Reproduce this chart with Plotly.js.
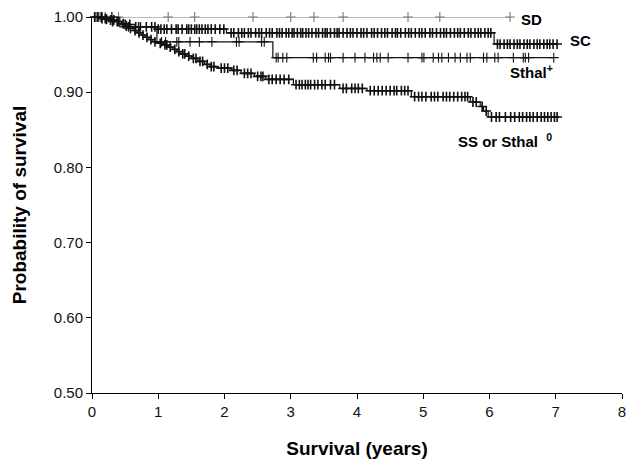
<!DOCTYPE html>
<html>
<head>
<meta charset="utf-8">
<script src="https://cdn.plot.ly/plotly-3.0.1.min.js"></script>
<style>html,body{margin:0;padding:0;background:#fff;}#chart{width:627px;height:462px;}</style>
</head>
<body>
<div id="chart"></div>
<script>
// ---- Kaplan-Meier step data (time in years, survival probability) ----
const sdTimes = [0, 6.31];
const sdSurv  = [1.0, 1.0];
const sdCensor = [0.05, 0.12, 0.2, 0.3, 0.4, 1.15, 1.55, 2.43, 3.0, 3.35, 3.79, 4.77, 5.25, 6.31];

const scTimes = [0, 0.15, 0.3, 0.45, 0.65, 1.0, 2.03, 6.07, 7.03];
const scSurv  = [1.0, 0.997, 0.994, 0.99, 0.987, 0.984, 0.979, 0.964, 0.964];
const scCensor = [0.08, 0.14, 0.22, 0.31, 0.38, 0.5, 0.57, 0.66, 0.73, 0.82, 0.9, 0.95, 1.0, 1.04, 1.09, 1.13,
  1.2, 1.27, 1.3, 1.36, 1.43, 1.46, 1.5, 1.55, 1.58, 1.62, 1.66, 1.71, 1.75, 1.8, 1.86, 1.93, 1.99,
  2.1, 2.14, 2.21, 2.26, 2.3, 2.36, 2.4, 2.47, 2.52, 2.56, 2.63, 2.68, 2.72, 2.79, 2.83, 2.87, 2.93,
  2.97, 3.02, 3.05, 3.1, 3.15, 3.18, 3.23, 3.27, 3.32, 3.38, 3.42, 3.48, 3.52, 3.55, 3.6, 3.66, 3.7,
  3.73, 3.79, 3.85, 3.9, 3.94, 4.0, 4.06, 4.1, 4.15, 4.22, 4.26, 4.31, 4.37, 4.42, 4.46, 4.53, 4.58,
  4.61, 4.66, 4.73, 4.78, 4.82, 4.88, 4.94, 4.98, 5.03, 5.1, 5.14, 5.2, 5.26, 5.31, 5.35, 5.41, 5.47,
  5.52, 5.56, 5.62, 5.68, 5.72, 5.78, 5.83, 5.87, 5.93, 5.98, 6.02,
  6.12, 6.16, 6.22, 6.27, 6.31, 6.37, 6.42, 6.46, 6.52, 6.57, 6.61, 6.67, 6.72, 6.76, 6.82, 6.87,
  6.91, 6.96, 7.02];

const stTimes = [0, 0.42, 0.98, 2.73, 6.97];
const stSurv  = [1.0, 0.987, 0.967, 0.946, 0.946];
const stCensor = [0.15, 0.3, 0.55, 0.7, 1.05, 1.11, 1.28, 1.31, 1.48, 1.62, 1.81, 2.18, 2.22, 2.56, 2.6,
  2.78, 2.81, 2.88, 2.94, 3.34, 3.39, 3.52, 3.57, 3.6, 3.79, 3.97, 4.12, 4.25, 4.3, 4.35, 4.47, 4.77,
  4.98, 5.01, 5.15, 5.23, 5.28, 5.38, 5.48, 5.56, 5.66, 5.71, 5.91, 5.96, 6.08, 6.13, 6.36, 6.51,
  6.54, 6.59, 6.97];

const ssTimes = [0, 0.12, 0.25, 0.35, 0.45, 0.5, 0.55, 0.62, 0.68, 0.74, 0.8, 0.86, 0.92, 1.0, 1.08,
  1.15, 1.22, 1.28, 1.34, 1.42, 1.5, 1.6, 1.7, 1.78, 1.9, 2.1, 2.25, 2.45, 2.62, 3.04, 3.74, 4.15,
  4.82, 5.71, 5.86, 5.91, 5.98, 7.03];
const ssSurv  = [1.0, 0.998, 0.996, 0.994, 0.991, 0.988, 0.985, 0.982, 0.979, 0.976, 0.973, 0.97,
  0.967, 0.965, 0.963, 0.96, 0.957, 0.954, 0.951, 0.948, 0.945, 0.941, 0.937, 0.934, 0.932, 0.929,
  0.925, 0.921, 0.917, 0.91, 0.905, 0.902, 0.894, 0.887, 0.881, 0.875, 0.867, 0.867];
const ssCensor = [0.04, 0.09, 0.15, 0.2, 0.28, 0.33, 0.4, 0.47, 0.52, 0.58, 0.65, 0.71, 0.77, 0.83,
  0.89, 0.95, 1.03, 1.1, 1.13, 1.18, 1.25, 1.31, 1.37, 1.4, 1.46, 1.53, 1.57, 1.63, 1.67, 1.74, 1.8,
  1.84, 1.95, 2.0, 2.05, 2.14, 2.19, 2.3, 2.35, 2.4, 2.5, 2.55, 2.58, 2.67, 2.72, 2.78, 2.84, 2.9,
  2.97, 3.08, 3.13, 3.17, 3.22, 3.26, 3.3, 3.36, 3.41, 3.47, 3.52, 3.6, 3.66, 3.79, 3.84, 3.92,
  3.97, 4.02, 4.08, 4.2, 4.26, 4.32, 4.38, 4.44, 4.5, 4.56, 4.6, 4.67, 4.72, 4.77, 4.87, 4.93,
  4.98, 5.04, 5.12, 5.17, 5.22, 5.3, 5.35, 5.4, 5.46, 5.52, 5.58, 5.63, 5.67, 5.75, 5.8, 5.89,
  5.95, 6.03, 6.1, 6.15, 6.24, 6.32, 6.38, 6.45, 6.5, 6.56, 6.61, 6.66, 6.72, 6.78, 6.83, 6.88,
  6.93, 6.98, 7.02];

const xTickVals = [0, 1, 2, 3, 4, 5, 6, 7, 8];
const yTickVals = [0.5, 0.6, 0.7, 0.8, 0.9, 1.0];

// survival value at time t from a KM step function
function survAt(times, surv, t) {
  let s = surv[0];
  for (let i = 0; i < times.length; i++) { if (times[i] <= t) s = surv[i]; }
  return s;
}

function groupTraces(times, surv, censor, color, mw) {
  return [
    { x: times, y: surv, type: 'scatter', mode: 'lines', line: { shape: 'hv', color: color, width: 1.2 },
      hoverinfo: 'skip', cliponaxis: false, showlegend: false },
    { x: censor, y: censor.map(t => survAt(times, surv, t)), type: 'scatter', mode: 'markers',
      marker: { symbol: 'cross-thin-open', size: 7, color: color, line: { color: color, width: mw } },
      cliponaxis: false, showlegend: false }
  ];
}

const data = [].concat(
  groupTraces(sdTimes, sdSurv, sdCensor, '#777777', 1.1),
  groupTraces(scTimes, scSurv, scCensor, '#111111', 1.6),
  groupTraces(stTimes, stSurv, stCensor, '#111111', 1.1),
  groupTraces(ssTimes, ssSurv, ssCensor, '#111111', 1.6)
);

const lblFont = { family: 'Liberation Sans, Arial, sans-serif', size: 15, color: '#000', weight: 'bold' };
const layout = {
  width: 627, height: 462,
  margin: { l: 92, r: 5, t: 17, b: 69 },
  paper_bgcolor: '#fff', plot_bgcolor: '#fff',
  font: { family: 'Liberation Sans, Arial, sans-serif', color: '#111' },
  xaxis: {
    range: [0, 8], tickvals: xTickVals, ticks: 'outside', ticklen: 5, tickcolor: '#000',
    showline: true, linecolor: '#000', linewidth: 1, showgrid: false, zeroline: false,
    tickfont: { size: 15 }, fixedrange: true,
    title: { text: '<b>Survival (years)</b>', font: { size: 19, color: '#000' }, standoff: 22 }
  },
  yaxis: {
    range: [0.5, 1.0], tickvals: yTickVals, tickformat: '.2f', ticks: 'outside', ticklen: 5, tickcolor: '#000',
    showline: true, linecolor: '#000', linewidth: 1, showgrid: false, zeroline: false,
    tickfont: { size: 15 }, fixedrange: true,
    title: { text: '<b>Probability of survival</b>', font: { size: 19, color: '#000' }, standoff: 22 }
  },
  annotations: [
    { x: 6.64, y: 0.997, xref: 'x', yref: 'y', text: '<b>SD</b>', showarrow: false, font: lblFont },
    { x: 7.38, y: 0.969, xref: 'x', yref: 'y', text: '<b>SC</b>', showarrow: false, font: lblFont },
    { x: 6.64, y: 0.927, xref: 'x', yref: 'y', text: '<b>Sthal<sup>+</sup></b>', showarrow: false, font: lblFont },
    { x: 6.24, y: 0.836, xref: 'x', yref: 'y', text: '<b>SS or Sthal  <sup>0</sup></b>', showarrow: false, font: lblFont }
  ],
  showlegend: false
};

Plotly.newPlot('chart', data, layout, { displayModeBar: false, staticPlot: true });
</script>
</body>
</html>
